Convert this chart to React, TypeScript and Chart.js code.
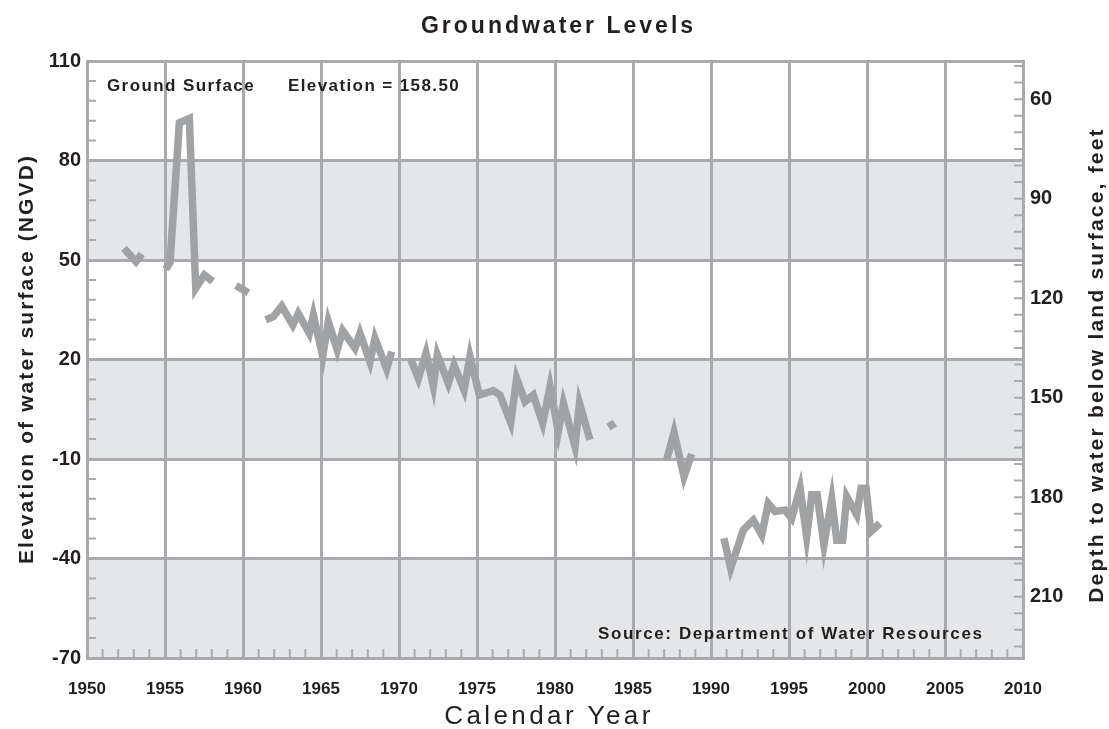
import React, { useEffect, useRef } from 'react';
import { Chart, registerables } from 'chart.js';

Chart.register(...registerables);

// ---------- text ----------
const CHART_TITLE = 'Groundwater Levels';
const X_TITLE = 'Calendar Year';
const Y_LEFT_TITLE = 'Elevation of water surface (NGVD)';
const Y_RIGHT_TITLE = 'Depth to water below land surface, feet';
const NOTE_GROUND = 'Ground Surface';
const NOTE_ELEVATION = 'Elevation = 158.50';
const NOTE_SOURCE = 'Source: Department of Water Resources';

// ---------- scales ----------
const LAND_SURFACE_ELEVATION = 158.5;
const YEAR_MIN = 1950;
const YEAR_MAX = 2010;
const YEAR_LABEL_STEP = 5;
const ELEV_MIN = -70;
const ELEV_MAX = 110;
const ELEV_MINOR_STEP = 6;
const ELEV_LABEL_STEP = 30;
const DEPTH_MINOR_STEP = 5;
const DEPTH_LABEL_STEP = 30;
const SHADED_BANDS: [number, number][] = [
  [80, 50],
  [20, -10],
  [-40, -70],
];

// ---------- data (null = gap in record) ----------
const years: number[] = [
  1952.37, 1953.14, 1953.51, 1954.2,
  1955.04, 1955.32, 1955.92, 1956.56, 1956.97, 1957.52, 1958.06, 1958.8,
  1959.55, 1960.34, 1960.9,
  1961.46, 1961.94, 1962.48, 1963.19, 1963.54, 1964.25, 1964.51, 1965.11,
  1965.47, 1966.04, 1966.39, 1967.18, 1967.5, 1968.14, 1968.46, 1969.21, 1969.53, 1970.1,
  1970.75, 1971.24, 1971.73, 1972.2, 1972.46, 1973.16, 1973.53, 1974.17, 1974.55, 1975.15,
  1976.04, 1976.47, 1977.16, 1977.54, 1978.08, 1978.61, 1979.21, 1979.68, 1980.21,
  1980.54, 1981.28, 1981.57, 1982.24, 1982.9,
  1983.49, 1983.78, 1985.0,
  1987.16, 1987.63, 1988.27, 1988.76, 1989.8,
  1990.83, 1991.26, 1992.07, 1992.71, 1993.25, 1993.67, 1994.1, 1994.74, 1995.17,
  1995.71, 1996.13, 1996.46, 1996.81, 1997.24, 1997.74, 1998.06, 1998.44, 1998.7,
  1999.34, 1999.62, 1999.94, 2000.24, 2000.83,
];

const elevations: (number | null)[] = [
  53.5, 49.5, 51.8, null,
  47.2, 49.2, 91.4, 92.7, 41.5, 45.5, 43.5, null,
  42.3, 40.1, null,
  32.0, 32.9, 36.1, 30.4, 33.9, 27.9, 33.4, 21.0,
  31.4, 22.9, 28.7, 23.4, 27.9, 19.3, 26.4, 17.1, 22.4, null,
  20.1, 14.3, 21.9, 12.0, 21.4, 12.8, 18.3, 10.8, 20.9, 9.3,
  10.6, 9.3, 1.0, 14.3, 7.3, 9.3, 0.8, 11.8, -1.7,
  6.8, -6.2, 6.8, -4.2, null,
  1.2, -0.8, null,
  -10.3, -2.0, -15.3, -8.5, null,
  -33.9, -42.9, -31.4, -28.4, -32.9, -23.4, -25.8, -25.4, -27.9,
  -18.8, -33.4, -20.8, -20.8, -35.9, -22.1, -34.5, -34.5, -21.3,
  -26.8, -18.8, -18.8, -31.9, -29.4,
];

// ---------- style ----------
const INK = '#231f20';
const GRID = '#a9aaad';
const BAND = '#e5e6e8';
const LINE = '#a1a2a4';
const SANS = "'Liberation Sans', Arial, sans-serif";

const isMultiple = (v: number, step: number, base = 0) => {
  const r = (((v - base) % step) + step) % step;
  return r < 1e-6 || step - r < 1e-6;
};

const drawSpaced = (ctx: any, text: string, x: number, y: number, spacing: number) => {
  ctx.letterSpacing = `${spacing}px`;
  ctx.fillText(text, x, y);
  ctx.letterSpacing = '0px';
};

const decorPlugin = {
  id: 'decor',
  beforeDraw(chart: any) {
    const { ctx, chartArea } = chart;
    const y = chart.scales.y;
    ctx.save();
    ctx.fillStyle = BAND;
    SHADED_BANDS.forEach(([hi, lo]) => {
      const y1 = y.getPixelForValue(hi);
      const y2 = y.getPixelForValue(lo);
      ctx.fillRect(chartArea.left, y1, chartArea.right - chartArea.left, y2 - y1);
    });
    ctx.restore();
  },
  beforeDatasetsDraw(chart: any) {
    const { ctx, chartArea } = chart;
    const { x, y, y2 } = chart.scales;
    const len = 9;
    ctx.save();
    ctx.strokeStyle = GRID;
    ctx.lineWidth = 2;
    ctx.beginPath();
    x.ticks.forEach((t: any) => {
      const px = x.getPixelForValue(t.value);
      ctx.moveTo(px, chartArea.bottom);
      ctx.lineTo(px, chartArea.bottom - len);
    });
    y.ticks.forEach((t: any) => {
      const py = y.getPixelForValue(t.value);
      ctx.moveTo(chartArea.left, py);
      ctx.lineTo(chartArea.left + len, py);
    });
    y2.ticks.forEach((t: any) => {
      const py = y2.getPixelForValue(t.value);
      ctx.moveTo(chartArea.right, py);
      ctx.lineTo(chartArea.right - len, py);
    });
    ctx.stroke();
    ctx.restore();
  },
  afterDraw(chart: any) {
    const { ctx, chartArea, width } = chart;
    ctx.save();
    ctx.fillStyle = INK;
    ctx.textBaseline = 'middle';
    // chart title
    ctx.font = `bold 23px ${SANS}`;
    ctx.textAlign = 'center';
    drawSpaced(ctx, CHART_TITLE, width / 2 + 4, 27, 3);
    // x axis title
    ctx.font = `26px ${SANS}`;
    drawSpaced(ctx, X_TITLE, (chartArea.left + chartArea.right) / 2 - 6, 717, 3.4);
    // notes
    ctx.font = `bold 17px ${SANS}`;
    ctx.textAlign = 'left';
    drawSpaced(ctx, NOTE_GROUND, chartArea.left + 20, chartArea.top + 25, 1.4);
    drawSpaced(ctx, NOTE_ELEVATION, chartArea.left + 201, chartArea.top + 25, 1.4);
    ctx.textAlign = 'right';
    drawSpaced(ctx, NOTE_SOURCE, chartArea.right - 39.5, chartArea.bottom - 24, 1.6);
    // left axis title, reading bottom to top
    ctx.font = `bold 21px ${SANS}`;
    ctx.textAlign = 'center';
    ctx.save();
    ctx.translate(27, 360);
    ctx.rotate(-Math.PI / 2);
    drawSpaced(ctx, Y_LEFT_TITLE, 1, 0, 2.1);
    ctx.restore();
    // right axis title, reading bottom to top
    ctx.save();
    ctx.translate(1097, 366);
    ctx.rotate(-Math.PI / 2);
    drawSpaced(ctx, Y_RIGHT_TITLE, 1, 0, 2.2);
    ctx.restore();
    ctx.restore();
  },
};

export default function App() {
  const ref = useRef<HTMLCanvasElement | null>(null);

  useEffect(() => {
    document.body.style.margin = '0';
    const canvas = ref.current;
    if (!canvas) return;
    const data = years.map((x, i) => ({ x, y: elevations[i] }));
    const depthMin = LAND_SURFACE_ELEVATION - ELEV_MAX;
    const depthMax = LAND_SURFACE_ELEVATION - ELEV_MIN;
    const depthTicks: number[] = [];
    for (let d = Math.ceil(depthMin / DEPTH_MINOR_STEP) * DEPTH_MINOR_STEP; d <= depthMax; d += DEPTH_MINOR_STEP) {
      depthTicks.push(d);
    }
    const chart = new Chart(canvas, {
      type: 'line',
      data: {
        datasets: [
          {
            data: data as any,
            borderColor: LINE,
            borderWidth: 7.5,
            borderCapStyle: 'butt',
            borderJoinStyle: 'miter',
            tension: 0,
            pointRadius: 0,
            spanGaps: false,
            fill: false,
          },
        ],
      },
      options: {
        responsive: false,
        animation: false,
        devicePixelRatio: 1,
        layout: { padding: { top: 61, left: 0, right: 0, bottom: 0 } },
        plugins: {
          legend: { display: false },
          tooltip: { enabled: false },
          title: { display: false },
        },
        scales: {
          x: {
            type: 'linear',
            min: YEAR_MIN,
            max: YEAR_MAX,
            afterFit: (s: any) => {
              s.height = 71;
            },
            ticks: {
              stepSize: 1,
              autoSkip: false,
              maxRotation: 0,
              padding: 21,
              color: INK,
              font: { family: SANS, size: 17, weight: 'bold' },
              callback: (v: any) => (isMultiple(Number(v), YEAR_LABEL_STEP) ? String(v) : ''),
            },
            grid: {
              drawTicks: false,
              lineWidth: 3,
              color: (c: any) =>
                c.tick && isMultiple(c.tick.value, YEAR_LABEL_STEP) ? GRID : 'rgba(0,0,0,0)',
            },
            border: { display: true, color: GRID, width: 3 },
          },
          y: {
            type: 'linear',
            position: 'left',
            min: ELEV_MIN,
            max: ELEV_MAX,
            afterFit: (s: any) => {
              s.width = 87;
            },
            ticks: {
              stepSize: ELEV_MINOR_STEP,
              autoSkip: false,
              padding: 6,
              color: INK,
              font: { family: SANS, size: 20, weight: 'bold' },
              callback: (v: any) =>
                isMultiple(Number(v), ELEV_LABEL_STEP, ELEV_MIN) ? String(v) : '',
            },
            grid: {
              drawTicks: false,
              lineWidth: 3,
              color: (c: any) =>
                c.tick && isMultiple(c.tick.value, ELEV_LABEL_STEP, ELEV_MIN) ? GRID : 'rgba(0,0,0,0)',
            },
            border: { display: true, color: GRID, width: 3 },
          },
          y2: {
            type: 'linear',
            position: 'right',
            reverse: true,
            min: depthMin,
            max: depthMax,
            afterFit: (s: any) => {
              s.width = 86;
            },
            afterBuildTicks: (s: any) => {
              s.ticks = depthTicks.map((value) => ({ value }));
            },
            ticks: {
              autoSkip: false,
              padding: 7,
              color: INK,
              font: { family: SANS, size: 20, weight: 'bold' },
              callback: (v: any) => (isMultiple(Number(v), DEPTH_LABEL_STEP) ? String(v) : ''),
            },
            grid: { display: false, drawTicks: false },
            border: { display: true, color: GRID, width: 3 },
          },
        },
      } as any,
      plugins: [decorPlugin],
    });
    return () => chart.destroy();
  }, []);

  return (
    <div style={{ width: 1109, height: 729 }}>
      <canvas ref={ref} width={1109} height={729} style={{ display: 'block' }} />
    </div>
  );
}
